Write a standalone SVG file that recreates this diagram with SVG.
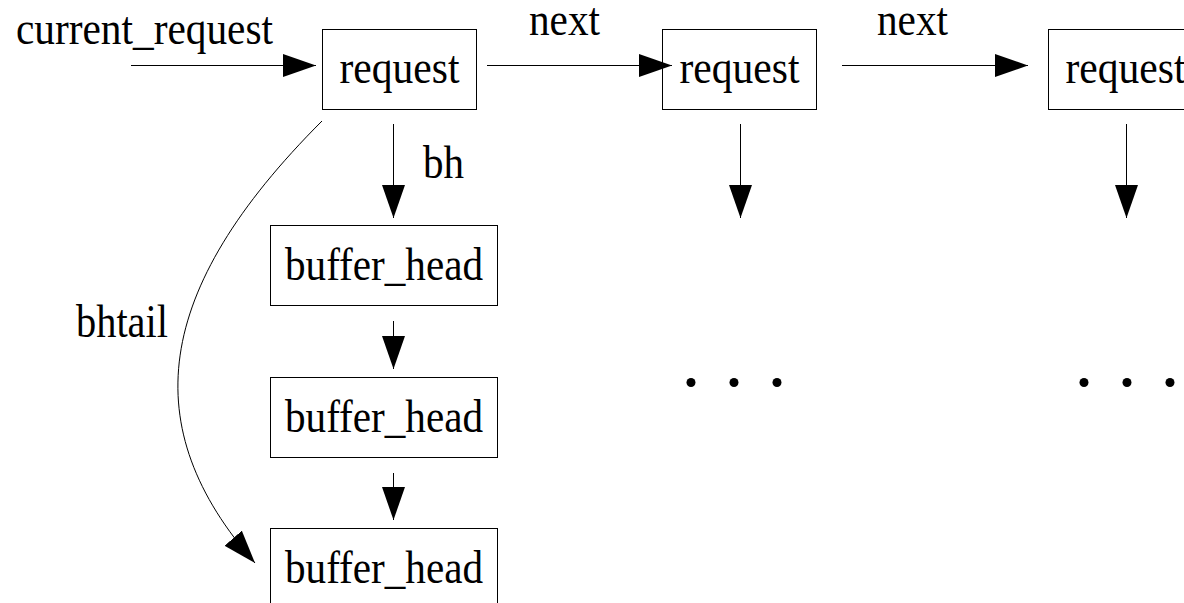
<svg xmlns="http://www.w3.org/2000/svg" width="1184" height="603" viewBox="0 0 1184 603">
  <style>
    .box { fill: #ffffff; stroke: #000000; stroke-width: 1; }
    .lbl { font-family: "Liberation Serif", "Times New Roman", serif; font-size: 46px; fill: #000000; }
    .mid { text-anchor: middle; }
    .edge { fill: none; stroke: #000000; stroke-width: 1; }
    .head { fill: #000000; stroke: none; }
    .dot { fill: #000000; }
  </style>
  <defs>
    <marker id="arrow" markerUnits="userSpaceOnUse" markerWidth="34" markerHeight="24" refX="33" refY="11.5" orient="auto" viewBox="0 0 34 24">
      <path class="head" d="M0,0 L33,11.5 L0,23 Z"/>
    </marker>
  </defs>

  <rect width="1184" height="603" fill="#ffffff"/>

  <!-- request list -->
  <g id="req1">
    <rect class="box" x="322.5" y="29.5" width="154" height="80"/>
    <text class="lbl mid" x="399.5" y="83" textLength="120" lengthAdjust="spacingAndGlyphs">request</text>
  </g>
  <g id="req2">
    <rect class="box" x="662.5" y="29.5" width="154" height="80"/>
    <text class="lbl mid" x="739.5" y="83" textLength="120" lengthAdjust="spacingAndGlyphs">request</text>
  </g>
  <g id="req3">
    <rect class="box" x="1048.5" y="29.5" width="154" height="80"/>
    <text class="lbl mid" x="1125.5" y="83" textLength="120" lengthAdjust="spacingAndGlyphs">request</text>
  </g>

  <!-- buffer_head chain of the first request -->
  <g id="bh1">
    <rect class="box" x="270.5" y="225.5" width="227" height="80"/>
    <text class="lbl mid" x="384" y="280" textLength="198" lengthAdjust="spacingAndGlyphs">buffer_head</text>
  </g>
  <g id="bh2">
    <rect class="box" x="270.5" y="377.5" width="227" height="80"/>
    <text class="lbl mid" x="384" y="432" textLength="198" lengthAdjust="spacingAndGlyphs">buffer_head</text>
  </g>
  <g id="bh3">
    <rect class="box" x="270.5" y="528.5" width="227" height="80"/>
    <text class="lbl mid" x="384" y="583" textLength="198" lengthAdjust="spacingAndGlyphs">buffer_head</text>
  </g>

  <!-- elided chains -->
  <g id="more2">
    <circle class="dot" cx="691" cy="382.5" r="4.5"/>
    <circle class="dot" cx="734" cy="382.5" r="4.5"/>
    <circle class="dot" cx="777" cy="382.5" r="4.5"/>
  </g>
  <g id="more3">
    <circle class="dot" cx="1084" cy="382.5" r="4.5"/>
    <circle class="dot" cx="1127" cy="382.5" r="4.5"/>
    <circle class="dot" cx="1170" cy="382.5" r="4.5"/>
  </g>

  <g id="connectors">
    <!-- current_request -> first request -->
    <line class="edge" x1="131" y1="65.5" x2="316" y2="65.5" marker-end="url(#arrow)"/>
    <text class="lbl" x="16" y="44" textLength="257" lengthAdjust="spacingAndGlyphs">current_request</text>

    <!-- next pointers -->
    <line class="edge" x1="487" y1="65.5" x2="672" y2="65.5" marker-end="url(#arrow)"/>
    <text class="lbl" x="529" y="35" textLength="71" lengthAdjust="spacingAndGlyphs">next</text>
    <line class="edge" x1="842" y1="65.5" x2="1028" y2="65.5" marker-end="url(#arrow)"/>
    <text class="lbl" x="877" y="35" textLength="71" lengthAdjust="spacingAndGlyphs">next</text>

    <!-- bh pointers -->
    <line class="edge" x1="393.5" y1="124" x2="393.5" y2="218" marker-end="url(#arrow)"/>
    <text class="lbl" x="423" y="178" textLength="41" lengthAdjust="spacingAndGlyphs">bh</text>
    <line class="edge" x1="393.5" y1="321" x2="393.5" y2="369" marker-end="url(#arrow)"/>
    <line class="edge" x1="393.5" y1="473" x2="393.5" y2="520" marker-end="url(#arrow)"/>

    <!-- downward pointers of the other requests -->
    <line class="edge" x1="740.5" y1="124" x2="740.5" y2="218" marker-end="url(#arrow)"/>
    <line class="edge" x1="1126.5" y1="124" x2="1126.5" y2="218" marker-end="url(#arrow)"/>

    <!-- bhtail -->
    <path class="edge" d="M322,121 C152,291 136,428 255,563" marker-end="url(#arrow)"/>
    <text class="lbl" x="76" y="337" textLength="92" lengthAdjust="spacingAndGlyphs">bhtail</text>
  </g>
</svg>
